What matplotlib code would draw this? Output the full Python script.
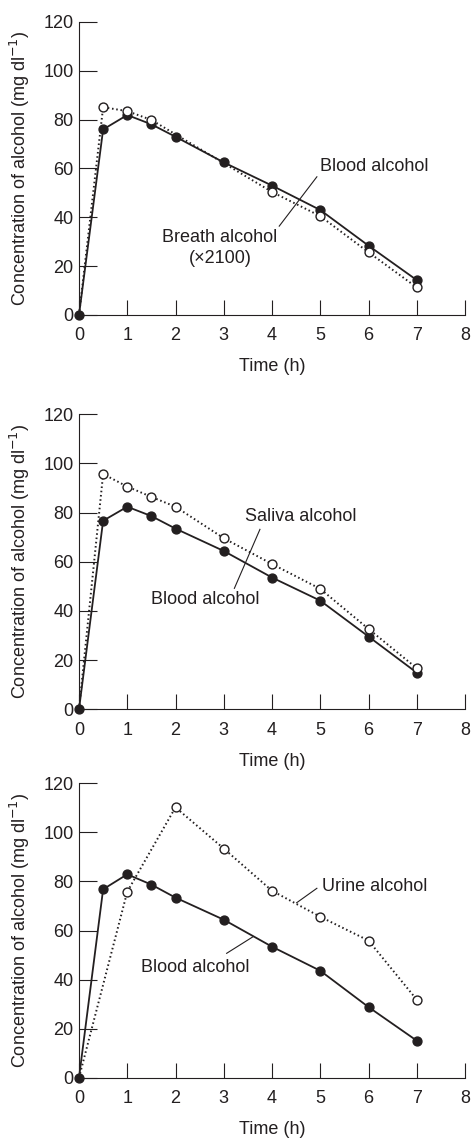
import matplotlib
matplotlib.use("Agg")
import matplotlib.pyplot as plt

plt.rcParams['font.family'] = ['Liberation Sans', 'DejaVu Sans']

INK = '#231f20'

# Sampling times (h)
t_blood = [0, 0.5, 1, 1.5, 2, 3, 4, 5, 6, 7]

# Panel 1: blood vs breath alcohol (x2100)
blood_1 = [0, 76.0, 81.9, 78.1, 73.0, 62.5, 53.0, 43.0, 28.4, 14.3]
t_breath = [0, 0.5, 1, 1.5, 4, 5, 6, 7]
breath_1 = [0, 85.1, 83.5, 79.9, 50.4, 40.5, 25.7, 11.3]

# Panel 2: blood vs saliva alcohol
blood_2 = [0, 76.7, 82.4, 78.6, 73.5, 64.4, 53.6, 44.2, 29.6, 14.9]
t_saliva = [0, 0.5, 1, 1.5, 2, 3, 4, 5, 6, 7]
saliva_2 = [0, 95.7, 90.6, 86.4, 82.4, 69.6, 59.1, 49.0, 32.7, 16.7]

# Panel 3: blood vs urine alcohol
blood_3 = [0, 76.8, 82.9, 78.7, 73.4, 64.4, 53.4, 43.6, 28.8, 15.1]
t_urine = [0, 1, 2, 3, 4, 5, 6, 7]
urine_3 = [0, 75.8, 110.2, 93.4, 76.2, 65.6, 55.9, 31.8]

x_ticks = [0, 1, 2, 3, 4, 5, 6, 7, 8]
y_ticks = [0, 20, 40, 60, 80, 100, 120]

FS = 13
MS = 6.4

fig = plt.figure(figsize=(4.72, 11.38), dpi=100)
left, width = 79 / 472, 386 / 472
panels = [
    (1 - 315 / 1138, 293 / 1138),
    (1 - 709.3 / 1138, 295 / 1138),
    (1 - 1077.7 / 1138, 294.4 / 1138),
]
axes = [fig.add_axes([left, b, width, h]) for b, h in panels]


def style_axes(ax):
    ax.set_xlim(0, 8)
    ax.set_ylim(0, 120)
    ax.set_xticks(x_ticks)
    ax.set_yticks(y_ticks)
    for s in ('top', 'right'):
        ax.spines[s].set_visible(False)
    for s in ('left', 'bottom'):
        ax.spines[s].set_color(INK)
        ax.spines[s].set_linewidth(0.8)
    ax.tick_params(axis='y', direction='in', length=12.7, width=0.8,
                   color=INK, labelcolor=INK, labelsize=FS, pad=4)
    ax.tick_params(axis='x', direction='in', length=10.8, width=0.8,
                   color=INK, labelcolor=INK, labelsize=FS, pad=9)
    ax.set_xlabel('Time (h)', fontsize=FS, color=INK)
    ax.xaxis.set_label_coords(0.5, -0.177)
    ax.xaxis.label.set_va('center')
    ax.set_ylabel('Concentration of alcohol (mg dl$^{-1}$)', fontsize=FS, color=INK)
    ax.yaxis.set_label_coords(-0.153, 0.5)
    ax.yaxis.label.set_va('center')


def draw_pair(ax, blood, t_other, other):
    # dotted series line (marker at the origin stays hidden under the blood dot)
    ax.plot(t_other, other, linestyle=(0, (0.8, 1.4)), color=INK, lw=1.4,
            zorder=2, clip_on=False)
    ax.plot(t_blood, blood, '-', color=INK, lw=1.3, zorder=3, clip_on=False)
    ax.plot(t_blood, blood, 'o', color=INK, ms=MS, zorder=4, clip_on=False)
    ax.plot(t_other[1:], other[1:], 'o', mfc='white', mec=INK, mew=1.0,
            ms=MS, linestyle='none', zorder=5, clip_on=False)


for ax in axes:
    style_axes(ax)

# Panel 1
ax = axes[0]
draw_pair(ax, blood_1, t_breath, breath_1)
ax.plot([4.93, 4.15], [56.6, 36.4], color=INK, lw=0.8, zorder=1)
ax.text(5.0, 61.0, 'Blood alcohol', fontsize=FS, color=INK, ha='left', va='center')
ax.text(2.92, 31.9, 'Breath alcohol', fontsize=FS, color=INK, ha='center', va='center')
ax.text(2.92, 23.0, '(\u00d72100)', fontsize=FS, color=INK, ha='center', va='center')

# Panel 2
ax = axes[1]
draw_pair(ax, blood_2, t_saliva, saliva_2)
ax.plot([3.75, 3.22], [73.2, 49.2], color=INK, lw=0.8, zorder=1)
ax.text(3.45, 78.4, 'Saliva alcohol', fontsize=FS, color=INK, ha='left', va='center')
ax.text(2.61, 44.7, 'Blood alcohol', fontsize=FS, color=INK, ha='center', va='center')

# Panel 3
ax = axes[2]
draw_pair(ax, blood_3, t_urine, urine_3)
ax.plot([4.93, 4.51], [77.2, 71.3], color=INK, lw=0.8, zorder=1)
ax.plot([3.61, 3.06], [57.5, 50.7], color=INK, lw=0.8, zorder=1)
ax.text(5.04, 78.1, 'Urine alcohol', fontsize=FS, color=INK, ha='left', va='center')
ax.text(2.40, 45.0, 'Blood alcohol', fontsize=FS, color=INK, ha='center', va='center')

fig.savefig('out.png', dpi=100)
